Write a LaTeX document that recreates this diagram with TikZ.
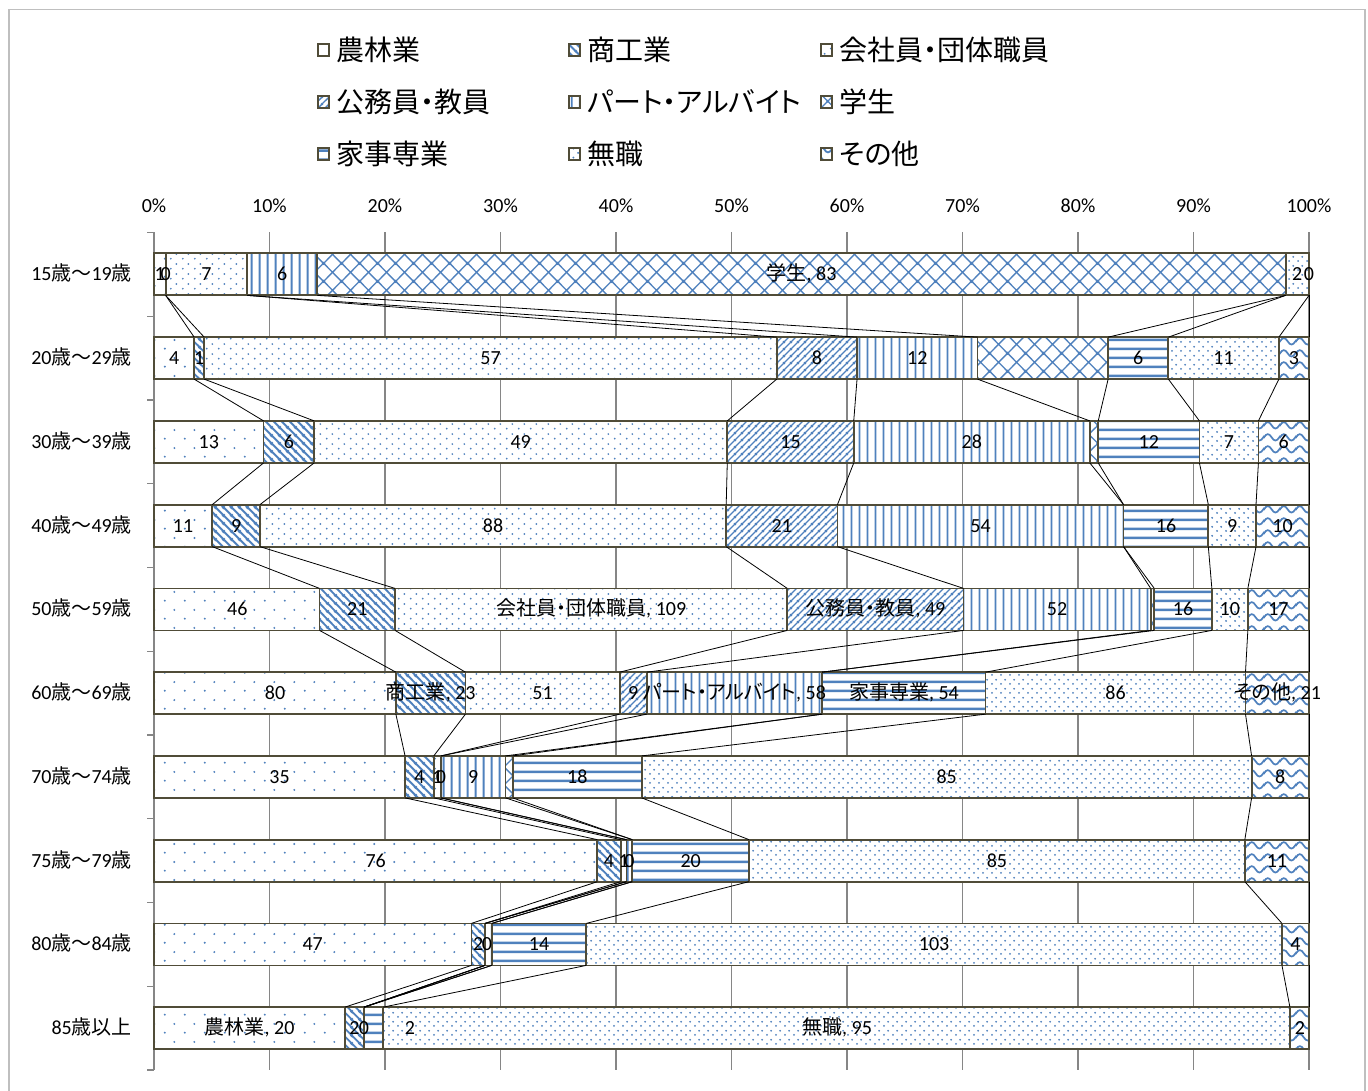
\documentclass[tikz,border=0pt]{standalone}
\usepackage{fontspec}
\setmainfont{Carlito}
\newfontfamily\cjk[RawFeature={+palt}]{Noto Sans CJK JP}
\newcommand\J[1]{{\cjk #1}}
\usetikzlibrary{patterns}
\definecolor{pblue}{RGB}{79,129,189}
\definecolor{olivec}{RGB}{80,76,56}
\definecolor{gridc}{RGB}{134,134,134}
\definecolor{framec}{RGB}{191,191,191}

% patterns (page coordinates, y up)
\pgfdeclarepatternformonly{pFarm}{\pgfpointorigin}{\pgfqpoint{20pt}{18pt}}{\pgfqpoint{20pt}{18pt}}{%
  \pgfpathcircle{\pgfqpoint{5pt}{4.5pt}}{1.15pt}%
  \pgfpathcircle{\pgfqpoint{15pt}{13.5pt}}{1.15pt}%
  \pgfusepath{fill}}
\pgfdeclarepatternformonly{pCorp}{\pgfpointorigin}{\pgfqpoint{12pt}{10pt}}{\pgfqpoint{12pt}{10pt}}{%
  \pgfpathcircle{\pgfqpoint{3pt}{2.5pt}}{1.05pt}%
  \pgfpathcircle{\pgfqpoint{9pt}{7.5pt}}{1.05pt}%
  \pgfusepath{fill}}
\pgfdeclarepatternformonly{pNone}{\pgfpointorigin}{\pgfqpoint{9pt}{9pt}}{\pgfqpoint{9pt}{9pt}}{%
  \pgfpathcircle{\pgfqpoint{2.25pt}{2.25pt}}{1.1pt}%
  \pgfpathcircle{\pgfqpoint{6.75pt}{6.75pt}}{1.1pt}%
  \pgfusepath{fill}}
\pgfdeclarepatternformonly{pShoko}{\pgfqpoint{0pt}{0pt}}{\pgfqpoint{8pt}{8pt}}{\pgfqpoint{8pt}{8pt}}{%
  \pgfsetlinewidth{2pt}%
  \pgfpathmoveto{\pgfqpoint{-1pt}{9pt}}\pgfpathlineto{\pgfqpoint{9pt}{-1pt}}%
  \pgfpathmoveto{\pgfqpoint{-1pt}{1pt}}\pgfpathlineto{\pgfqpoint{1pt}{-1pt}}%
  \pgfpathmoveto{\pgfqpoint{7pt}{9pt}}\pgfpathlineto{\pgfqpoint{9pt}{7pt}}%
  \pgfusepath{stroke}}
\pgfdeclarepatternformonly{pKomu}{\pgfqpoint{0pt}{0pt}}{\pgfqpoint{7pt}{7pt}}{\pgfqpoint{7pt}{7pt}}{%
  \pgfsetlinewidth{1.4pt}%
  \pgfpathmoveto{\pgfqpoint{-1pt}{-1pt}}\pgfpathlineto{\pgfqpoint{8pt}{8pt}}%
  \pgfpathmoveto{\pgfqpoint{-1pt}{6pt}}\pgfpathlineto{\pgfqpoint{1pt}{8pt}}%
  \pgfpathmoveto{\pgfqpoint{6pt}{-1pt}}\pgfpathlineto{\pgfqpoint{8pt}{1pt}}%
  \pgfusepath{stroke}}
\pgfdeclarepatternformonly{pPart}{\pgfqpoint{0pt}{0pt}}{\pgfqpoint{8pt}{8pt}}{\pgfqpoint{8pt}{8pt}}{%
  \pgfsetlinewidth{2pt}%
  \pgfpathmoveto{\pgfqpoint{4pt}{-1pt}}\pgfpathlineto{\pgfqpoint{4pt}{9pt}}%
  \pgfusepath{stroke}}
\pgfdeclarepatternformonly{pKaji}{\pgfqpoint{0pt}{0pt}}{\pgfqpoint{8pt}{9pt}}{\pgfqpoint{8pt}{9pt}}{%
  \pgfsetlinewidth{2.6pt}%
  \pgfpathmoveto{\pgfqpoint{-1pt}{4.5pt}}\pgfpathlineto{\pgfqpoint{9pt}{4.5pt}}%
  \pgfusepath{stroke}}
\pgfdeclarepatternformonly{pStud}{\pgfqpoint{0pt}{0pt}}{\pgfqpoint{18pt}{18pt}}{\pgfqpoint{18pt}{18pt}}{%
  \pgfsetlinewidth{1.4pt}%
  \pgfpathmoveto{\pgfqpoint{-1pt}{-1pt}}\pgfpathlineto{\pgfqpoint{19pt}{19pt}}%
  \pgfpathmoveto{\pgfqpoint{-1pt}{19pt}}\pgfpathlineto{\pgfqpoint{19pt}{-1pt}}%
  \pgfpathmoveto{\pgfqpoint{-1pt}{17pt}}\pgfpathlineto{\pgfqpoint{1pt}{19pt}}%
  \pgfpathmoveto{\pgfqpoint{17pt}{-1pt}}\pgfpathlineto{\pgfqpoint{19pt}{1pt}}%
  \pgfpathmoveto{\pgfqpoint{-1pt}{1pt}}\pgfpathlineto{\pgfqpoint{1pt}{-1pt}}%
  \pgfpathmoveto{\pgfqpoint{17pt}{19pt}}\pgfpathlineto{\pgfqpoint{19pt}{17pt}}%
  \pgfusepath{stroke}}
\pgfdeclarepatternformonly{pOther}{\pgfqpoint{0pt}{0pt}}{\pgfqpoint{16pt}{12pt}}{\pgfqpoint{16pt}{12pt}}{%
  \pgfsetlinewidth{1.8pt}%
  \pgfpathmoveto{\pgfqpoint{-8pt}{6pt}}%
  \pgfpathcurveto{\pgfqpoint{-5.33pt}{1.5pt}}{\pgfqpoint{-2.67pt}{1.5pt}}{\pgfqpoint{0pt}{6pt}}%
  \pgfpathcurveto{\pgfqpoint{2.67pt}{10.5pt}}{\pgfqpoint{5.33pt}{10.5pt}}{\pgfqpoint{8pt}{6pt}}%
  \pgfpathcurveto{\pgfqpoint{10.67pt}{1.5pt}}{\pgfqpoint{13.33pt}{1.5pt}}{\pgfqpoint{16pt}{6pt}}%
  \pgfpathcurveto{\pgfqpoint{18.67pt}{10.5pt}}{\pgfqpoint{21.33pt}{10.5pt}}{\pgfqpoint{24pt}{6pt}}%
  \pgfusepath{stroke}}

\tikzset{
  cat1/.style={pattern=pFarm, pattern color=pblue},
  cat2/.style={pattern=pShoko, pattern color=pblue},
  cat3/.style={pattern=pCorp, pattern color=pblue},
  cat4/.style={pattern=pKomu, pattern color=pblue},
  cat5/.style={pattern=pPart, pattern color=pblue},
  cat6/.style={pattern=pStud, pattern color=pblue},
  cat7/.style={pattern=pKaji, pattern color=pblue},
  cat8/.style={pattern=pNone, pattern color=pblue},
  cat9/.style={pattern=pOther, pattern color=pblue},
  barline/.style={draw=olivec, line width=1.8pt},
  serline/.style={draw=black, line width=0.8pt},
  gridline/.style={draw=gridc, line width=1.3pt},
  lab/.style={font=\fontsize{20}{24}\selectfont, inner sep=0pt, text height=13pt, text depth=0pt},
  catlab/.style={font=\fontsize{20}{24}\selectfont, inner sep=0pt, anchor=east, text height=13pt, text depth=0pt},
  axlab/.style={font=\fontsize{20}{24}\selectfont, inner sep=0pt, text height=13pt, text depth=0pt},
  legtext/.style={font=\fontsize{28}{32}\selectfont\cjk, inner sep=0pt, anchor=west, text height=23pt, text depth=2pt},
  swatch/.style={draw=olivec, line width=1.2pt},
}

\newcommand\barrow[4]{%
  \coordinate (r#1-t0) at (154,#2-21);
  \coordinate (r#1-b0) at (154,#2+21);
  \xdef\cumv{0}%
  \foreach \v [count=\k] in {#4} {%
    \pgfmathsetmacro\xa{154+1155*(\cumv/#3)}%
    \pgfmathsetmacro\cumn{\cumv+\v}%
    \pgfmathsetmacro\xb{154+1155*(\cumn/#3)}%
    \xdef\cumv{\cumn}%
    \fill[white] (\xa,#2-21) rectangle (\xb,#2+21);
    \fill[cat\k] (\xa,#2-21) rectangle (\xb,#2+21);
    \draw[barline] (\xa,#2-21) rectangle (\xb,#2+21);
    \coordinate (r#1-t\k) at (\xb,#2-21);
    \coordinate (r#1-b\k) at (\xb,#2+21);
  }%
}

\begin{document}
\begin{tikzpicture}[x=1pt,y=-1pt]
\useasboundingbox (0,0) rectangle (1368,1091);
\fill[white] (0,0) rectangle (1368,1091);
\draw[framec, line width=1.5pt] (9,9.5) rectangle (1365,1100);

% legend
\foreach \n/\x/\y/\c/\t in {
  a/318/50/1/農林業, b/569/50/2/商工業, c/821/50/3/会社員・団体職員,
  d/318/102/4/公務員・教員, e/569/102/5/パート・アルバイト, f/821/102/6/学生,
  g/318/154/7/家事専業, h/569/154/8/無職, i/821/154/9/その他}{
  \fill[white] (\x,\y-6) rectangle (\x+11,\y+6);
  \fill[cat\c] (\x,\y-6) rectangle (\x+11,\y+6);
  \draw[swatch] (\x,\y-6) rectangle (\x+11,\y+6);
  \node[legtext] (leg\n) at (\x+18,\y) {\t};
}

% axis labels
\foreach \i [evaluate=\i as \p using int(10*\i)] in {0,...,10}
  \node[axlab] (ax\i) at (154+115.5*\i,206) {\p\%};

% grid and axis
\foreach \i in {1,...,10}
  \draw[gridline] (154+115.5*\i,232.5) -- (154+115.5*\i,1070);
\draw[gridline] (154,232.5) -- (154,1070);
\foreach \j in {0,...,10}
  \draw[gridline] (147,232.5+83.75*\j) -- (154,232.5+83.75*\j);

% category labels
\node[catlab] (c1) at (132,274.4) {15\J{歳～}19\J{歳}};
\node[catlab] (c2) at (132,358.15) {20\J{歳～}29\J{歳}};
\node[catlab] (c3) at (132,441.9) {30\J{歳～}39\J{歳}};
\node[catlab] (c4) at (132,525.65) {40\J{歳～}49\J{歳}};
\node[catlab] (c5) at (132,609.4) {50\J{歳～}59\J{歳}};
\node[catlab] (c6) at (132,693.15) {60\J{歳～}69\J{歳}};
\node[catlab] (c7) at (132,776.9) {70\J{歳～}74\J{歳}};
\node[catlab] (c8) at (132,860.65) {75\J{歳～}79\J{歳}};
\node[catlab] (c9) at (132,944.4) {80\J{歳～}84\J{歳}};
\node[catlab] (c10) at (132,1028.15) {85\J{歳以上}};

% bars
\barrow{1}{274.4}{99}{1,0,7,0,6,83,0,2,0}
\barrow{2}{358.15}{115}{4,1,57,8,12,13,6,11,3}
\barrow{3}{441.9}{137}{13,6,49,15,28,1,12,7,6}
\barrow{4}{525.65}{218}{11,9,88,21,54,0,16,9,10}
\barrow{5}{609.4}{321}{46,21,109,49,52,1,16,10,17}
\barrow{6}{693.15}{382}{80,23,51,9,58,0,54,86,21}
\barrow{7}{776.9}{161}{35,4,1,0,9,1,18,85,8}
\barrow{8}{860.65}{198}{76,4,1,0,1,0,20,85,11}
\barrow{9}{944.4}{171}{47,2,0,0,1,0,14,103,4}
\barrow{10}{1028.15}{121}{20,2,0,0,0,0,2,95,2}

% series lines
\foreach \r [evaluate=\r as \rn using int(\r+1)] in {1,...,9}
  \foreach \k in {1,...,9}
    \draw[serline] (r\r-b\k) -- (r\rn-t\k);

% data labels
\foreach \n/\x/\t in {a/159.8/1, b/165.7/0, c/206.5/7, e/282.3/6, h/1297.3/2, i/1309/0}
  \node[lab] (l1\n) at (\x,274.4) {\t};
\node[lab] (l1f) at (801.5,274.4) {\J{学生}, 83};

\foreach \n/\x/\t in {a/174.1/4, b/199.2/1, c/490.5/57, d/816.9/8, e/917.3/12, g/1138.3/6, h/1223.6/11, i/1293.9/3}
  \node[lab] (l2\n) at (\x,358.15) {\t};

\foreach \n/\x/\t in {a/208.8/13, b/288.9/6, c/520.7/49, d/790.5/15, e/971.8/28, g/1148.8/12, h/1228.9/7, i/1283.7/6}
  \node[lab] (l3\n) at (\x,441.9) {\t};

\foreach \n/\x/\t in {a/183.1/11, b/236.1/9, c/493.1/88, d/781.8/21, e/980.5/54, g/1166.0/16, h/1232.2/9, i/1282.5/10}
  \node[lab] (l4\n) at (\x,525.65) {\t};

\foreach \n/\x/\t in {a/237.3/46, b/357.3/21, e/1057.1/52, g/1183.1/16, h/1229.8/10, i/1278.4/17}
  \node[lab] (l5\n) at (\x,609.4) {\t};
\node[lab] (l5c) at (591.2,609.4) {\J{会社員・団体職員}, 109};
\node[lab] (l5d) at (875.4,609.4) {\J{公務員・教員}, 49};

\foreach \n/\x/\t in {a/275/80, c/542.5/51, d/633.2/9, h/1115.5/86}
  \node[lab] (l6\n) at (\x,693.15) {\t};
\node[lab] (l6b) at (430.7,693.15) {\J{商工業}, 23};
\node[lab] (l6e) at (734.5,693.15) {\J{パート・アルバイト}, 58};
\node[lab] (l6g) at (903.9,693.15) {\J{家事専業}, 54};
\node[lab] (l6i) at (1277.3,693.15) {\J{その他}, 21};

\foreach \n/\x/\t in {a/279.5/35, b/419.4/4, c/437.4/1, d/441.0/0, e/473.2/9, g/577.3/18, h/946.7/85, i/1280.3/8}
  \node[lab] (l7\n) at (\x,776.9) {\t};

\foreach \n/\x/\t in {a/375.7/76, b/609/4, c/623.6/1, d/629.4/0, g/690.7/20, h/996.9/85, i/1276.9/11}
  \node[lab] (l8\n) at (\x,860.65) {\t};

\foreach \n/\x/\t in {a/312.7/47, b/478.2/2, c/487/0, g/539.0/14, h/934.1/103, i/1295.5/4}
  \node[lab] (l9\n) at (\x,944.4) {\t};

\foreach \n/\x/\t in {b/354.5/2, c/364/0, g/410/2, i/1300/2}
  \node[lab] (l10\n) at (\x,1028.15) {\t};
\node[lab] (l10a) at (249.5,1028.15) {\J{農林業}, 20};
\node[lab] (l10h) at (837,1028.15) {\J{無職}, 95};
\end{tikzpicture}
\end{document}
